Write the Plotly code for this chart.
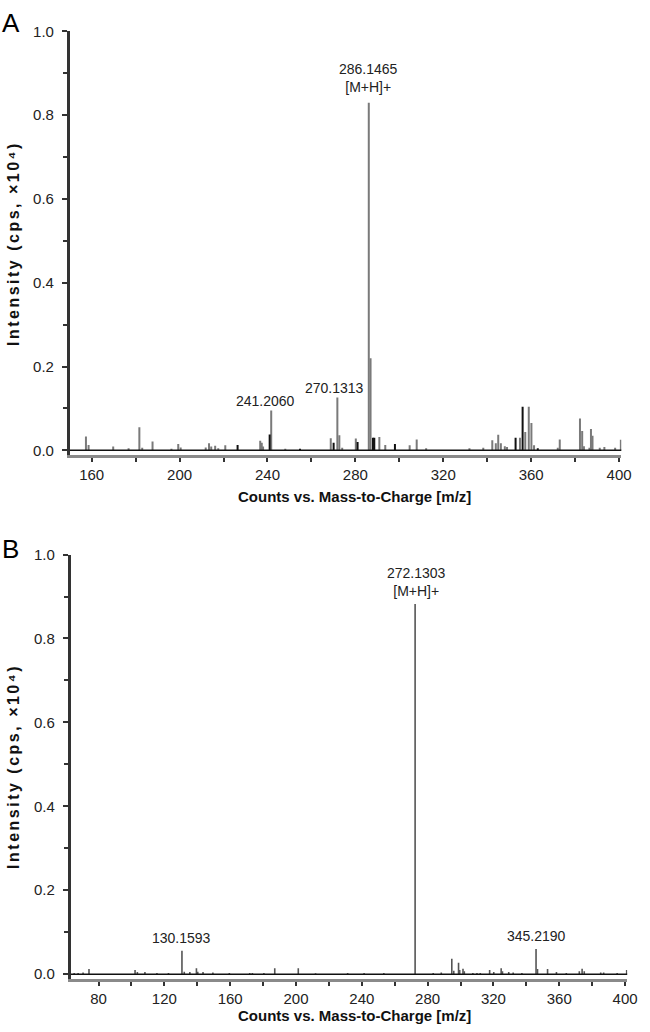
import plotly.graph_objects as go

# Panel A: m/z and relative intensity (x10^4 cps), gray and black peaks
mz_a_gray = [157.4, 158.6, 169.8, 176.8, 181.7, 183.0, 187.7, 196.3, 199.4, 200.5,
             211.9, 213.4, 214.4, 216.2, 217.6, 220.8, 236.7, 237.4, 238.0, 241.7,
             248.1, 268.8, 271.8, 272.7, 274.0, 280.2, 286.1, 286.9, 290.9, 293.6,
             304.7, 307.9, 312.2, 331.9, 338.2, 342.3, 343.9, 345.0, 346.2, 348.0,
             349.0, 354.9, 357.3, 358.9, 360.1, 361.3, 372.1, 373.0, 382.2, 383.2,
             384.0, 386.5, 387.2, 387.9, 391.2, 393.3, 398.2, 400.8]
int_a_gray = [0.033, 0.013, 0.009, 0.005, 0.055, 0.006, 0.021, 0.004, 0.015, 0.007,
              0.007, 0.017, 0.009, 0.011, 0.005, 0.012, 0.023, 0.018, 0.009, 0.095,
              0.004, 0.029, 0.126, 0.036, 0.006, 0.028, 0.83, 0.22, 0.032, 0.013,
              0.012, 0.026, 0.005, 0.005, 0.006, 0.024, 0.017, 0.037, 0.017, 0.010,
              0.008, 0.030, 0.044, 0.104, 0.065, 0.012, 0.006, 0.026, 0.076, 0.046,
              0.010, 0.006, 0.051, 0.035, 0.006, 0.008, 0.006, 0.025]
mz_a_black = [226.4, 241.0, 254.8, 270.1, 281.0, 288.0, 288.6, 298.0, 352.9, 356.1, 363.0]
int_a_black = [0.013, 0.038, 0.004, 0.018, 0.020, 0.030, 0.030, 0.015, 0.030, 0.104, 0.005]

# Panel B
mz_b = [65.2, 67.6, 70.6, 74.2, 102.2, 103.6, 108.2, 115.5, 122.5, 130.7,
        132.1, 135.5, 139.5, 140.3, 143.5, 149.5, 159.5, 171.9, 173.5, 180.5,
        187.1, 201.4, 211.9, 231.4, 241.4, 253.4, 272.4, 283.4, 288.3, 294.7,
        295.9, 298.8, 299.5, 301.5, 302.3, 307.5, 310.0, 312.0, 317.7, 320.2,
        324.7, 325.5, 329.3, 332.0, 337.3, 345.9, 346.8, 352.9, 358.3, 364.3,
        372.2, 373.9, 375.2, 385.2, 387.0, 395.2, 401.0]
int_b = [0.003, 0.003, 0.004, 0.012, 0.010, 0.005, 0.005, 0.003, 0.003, 0.056,
         0.006, 0.005, 0.014, 0.006, 0.005, 0.004, 0.003, 0.003, 0.003, 0.003,
         0.014, 0.014, 0.002, 0.003, 0.003, 0.003, 0.882, 0.003, 0.004, 0.037,
         0.008, 0.027, 0.010, 0.013, 0.007, 0.003, 0.003, 0.003, 0.010, 0.005,
         0.014, 0.007, 0.005, 0.004, 0.003, 0.060, 0.012, 0.012, 0.005, 0.003,
         0.007, 0.013, 0.007, 0.004, 0.004, 0.003, 0.010]

# labelled peaks: (m/z, intensity, text)
labels_a = [(286.1, 0.83, "286.1465<br>[M+H]+"), (271.8, 0.126, "270.1313"), (241.7, 0.095, "241.2060")]
labels_b = [(272.4, 0.882, "272.1303<br>[M+H]+"), (130.7, 0.056, "130.1593"), (345.9, 0.060, "345.2190")]

FONT = "Liberation Sans, Arial, sans-serif"
W, H = 650, 1032


def stems(mz, inten):
    xs, ys = [], []
    for m, i in zip(mz, inten):
        xs += [m, m, None]
        ys += [0, i, None]
    return xs, ys


fig = go.Figure()
for xa, ya, mz, inten, color, lw in [
    ("x", "y", mz_a_gray, int_a_gray, "#7a7a7a", 2),
    ("x", "y", mz_a_black, int_a_black, "#111111", 2),
    ("x2", "y2", mz_b, int_b, "#555555", 1.6),
]:
    xs, ys = stems(mz, inten)
    fig.add_trace(go.Scatter(x=xs, y=ys, mode="lines", xaxis=xa, yaxis=ya,
                             line=dict(color=color, width=lw), hoverinfo="skip",
                             showlegend=False))

ycommon = dict(range=[-0.012, 1.0], tickvals=[0, 0.2, 0.4, 0.6, 0.8, 1.0],
               ticktext=["0.0", "0.2", "0.4", "0.6", "0.8", "1.0"],
               showline=True, linecolor="#333333", linewidth=3,
               ticks="outside", ticklen=5, tickwidth=1.5, tickcolor="#333333",
               minor=dict(dtick=0.1, ticks="outside", ticklen=4, tickcolor="#333333"),
               showgrid=False, zeroline=False, ticklabelstandoff=5,
               tickfont=dict(family=FONT, size=15, color="#222222"))
xcommon = dict(showline=True, linecolor="#8a8a8a", linewidth=3,
               ticks="outside", ticklen=4, tickwidth=1.5, tickcolor="#333333",
               dtick=40, minor=dict(dtick=20, ticks="outside", ticklen=4, tickcolor="#333333"),
               showgrid=False, zeroline=False,
               tickfont=dict(family=FONT, size=15, color="#222222"))


def py(p):
    return 1 - p / H


fig.update_layout(
    width=W, height=H, margin=dict(l=0, r=0, t=0, b=0),
    paper_bgcolor="white", plot_bgcolor="white",
    xaxis=dict(domain=[71 / W, 631 / W], range=[150.1, 401], tick0=160, anchor="y", **xcommon),
    yaxis=dict(domain=[py(451.6), py(22.7)], anchor="x", **ycommon),
    xaxis2=dict(domain=[72 / W, 637 / W], range=[63.2, 401.3], tick0=80, anchor="y2", **xcommon),
    yaxis2=dict(domain=[py(981.6), py(552)], anchor="x2", **ycommon),
)

# baseline at zero intensity
for xr, yr in [("x domain", "y"), ("x2 domain", "y2")]:
    fig.add_shape(type="line", xref=xr, yref=yr, x0=0, x1=1, y0=0, y1=0,
                  line=dict(color="#111111", width=1.5))

ann = []
for (xr, yr, labs, shifts) in [
    ("x", "y", labels_a, [(0, 6), (-3, 0), (-6, 0)]),
    ("x2", "y2", labels_b, [(1, 3), (0, 3), (0, 3)]),
]:
    for (m, i, t), (dx, dy) in zip(labs, shifts):
        ann.append(dict(x=m, y=i, xref=xr, yref=yr, text=t, showarrow=False,
                        xanchor="center", yanchor="bottom", xshift=dx, yshift=dy,
                        font=dict(family=FONT, size=14, color="#222222")))

for letter, yc in [("A", 14), ("B", 546)]:
    ann.append(dict(x=11 / W, y=py(yc), xref="paper", yref="paper", text=letter,
                    showarrow=False, xanchor="center", yanchor="middle",
                    font=dict(family=FONT, size=26, color="black")))

for yc in [237, 766]:
    ann.append(dict(x=13 / W, y=py(yc), xref="paper", yref="paper",
                    text="<b><span style='letter-spacing:2.5px'>Intensity (cps, ×10⁴)</span></b>",
                    textangle=-90, showarrow=False,
                    xanchor="center", yanchor="middle",
                    font=dict(family=FONT, size=16, color="#111111")))

for yc in [493, 1018]:
    ann.append(dict(x=360 / W, y=py(yc), xref="paper", yref="paper",
                    text="<b>Counts vs. Mass-to-Charge [m/z]</b>", showarrow=False,
                    xanchor="center", yanchor="middle",
                    font=dict(family=FONT, size=15, color="#111111")))

fig.update_layout(annotations=ann)
fig.write_html("out.html", config={"displayModeBar": False},
               post_script="document.body.style.margin='0';")
